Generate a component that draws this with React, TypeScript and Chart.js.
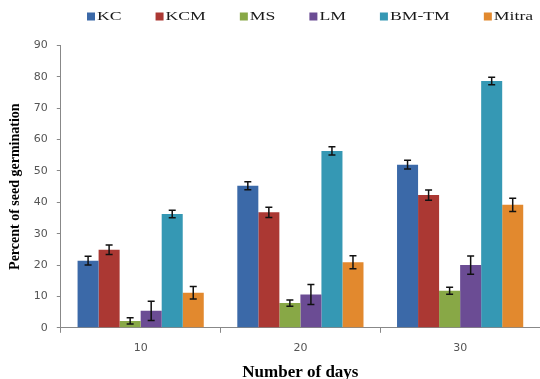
import React, { useEffect, useRef } from "react";
import { Chart, registerables } from "chart.js";

Chart.register(...registerables);

const categories = ["10", "20", "30"];
const seriesNames = ["KC", "KCM", "MS", "LM", "BM-TM", "Mitra"];
const kc = [21.4, 45.3, 52.0];
const kcm = [24.9, 36.8, 42.3];
const ms = [2.2, 7.9, 11.8];
const lm = [5.4, 10.6, 20.0];
const bmtm = [36.3, 56.4, 78.7];
const mitra = [11.2, 20.9, 39.2];
const kcErr = [1.4, 1.3, 1.4];
const kcmErr = [1.5, 1.6, 1.6];
const msErr = [1.0, 1.0, 1.1];
const lmErr = [3.1, 3.2, 2.9];
const bmtmErr = [1.2, 1.3, 1.2];
const mitraErr = [2.0, 2.1, 2.1];
const colors = ["#3B69A8", "#AB3833", "#88A846", "#6B4C94", "#3598B4", "#E2892E"];

const seriesValues = [kc, kcm, ms, lm, bmtm, mitra];
const seriesErrors = [kcErr, kcmErr, msErr, lmErr, bmtmErr, mitraErr];

const errorBarPlugin = {
  id: "errorBars",
  afterDatasetsDraw(chart: any) {
    const ctx = chart.ctx;
    const yScale = chart.scales.y;
    ctx.save();
    ctx.strokeStyle = "#111";
    ctx.lineWidth = 1.5;
    chart.data.datasets.forEach((ds: any, di: number) => {
      const meta = chart.getDatasetMeta(di);
      const errs = seriesErrors[di];
      meta.data.forEach((bar: any, i: number) => {
        const v = ds.data[i];
        const e = errs[i];
        const yT = yScale.getPixelForValue(v + e);
        const yB = yScale.getPixelForValue(v - e);
        const x = bar.x;
        const cap = 3.5;
        ctx.beginPath();
        ctx.moveTo(x, yT);
        ctx.lineTo(x, yB);
        ctx.moveTo(x - cap, yT);
        ctx.lineTo(x + cap, yT);
        ctx.moveTo(x - cap, yB);
        ctx.lineTo(x + cap, yB);
        ctx.stroke();
      });
    });
    ctx.restore();
  },
};

const legendPlugin = {
  id: "customLegend",
  afterDraw(chart: any) {
    const ctx = chart.ctx;
    ctx.save();
    ctx.font = '13px "Liberation Serif"';
    ctx.textBaseline = "middle";
    const stretch = 1.36;
    const y = 16.5;
    let x = 87;
    chart.data.datasets.forEach((ds: any) => {
      ctx.fillStyle = ds.backgroundColor;
      ctx.fillRect(x, y - 4, 8, 8);
      x += 10;
      const w = ctx.measureText(ds.label).width * stretch;
      ctx.save();
      ctx.translate(x, y);
      ctx.scale(stretch, 1);
      ctx.fillStyle = "#1a1a1a";
      ctx.fillText(ds.label, 0, 0);
      ctx.restore();
      x += w + 34;
    });
    ctx.restore();
  },
};

export default function App() {
  const ref = useRef<HTMLCanvasElement>(null);
  useEffect(() => {
    if (!ref.current) return;
    const chart = new Chart(ref.current, {
      type: "bar",
      data: {
        labels: categories,
        datasets: seriesNames.map((name, i) => ({
          label: name,
          data: seriesValues[i],
          backgroundColor: colors[i],
          borderWidth: 0,
          categoryPercentage: 0.79,
          barPercentage: 1,
        })),
      },
      options: {
        responsive: false,
        animation: false,
        layout: { padding: { top: 45.5, left: 7, right: -3, bottom: -2 } },
        plugins: {
          legend: { display: false },
          tooltip: { enabled: false },
        },
        scales: {
          x: {
            grid: { display: true, drawOnChartArea: false, tickLength: 5, color: "#888", offset: true },
            border: { display: true, color: "#888" },
            ticks: { color: "#555", font: { family: "DejaVu Sans", size: 11 }, padding: 9 },
            title: {
              display: true,
              text: "Number of days",
              color: "#000",
              font: { family: "Liberation Serif", size: 17, weight: "bold", lineHeight: 1 },
              padding: { top: 0, bottom: 0 },
            },
          },
          y: {
            min: 0,
            max: 90,
            ticks: { stepSize: 10, color: "#555", font: { family: "DejaVu Sans", size: 11 }, padding: 9 },
            grid: { display: true, drawOnChartArea: false, tickLength: 4, color: "#888" },
            border: { display: true, color: "#888" },
            title: {
              display: true,
              text: "Percent of seed germination",
              color: "#000",
              font: { family: "Liberation Serif", size: 14, weight: "bold", lineHeight: 1.2 },
              padding: { top: 0, bottom: 1 },
            },
          },
        },
      },
      plugins: [errorBarPlugin, legendPlugin],
    });
    return () => chart.destroy();
  }, []);
  return (
    <div style={{ position: "absolute", left: 0, top: 0, width: 540, height: 379, background: "#fff" }}>
      <canvas ref={ref} width={540} height={379} style={{ display: "block" }} />
    </div>
  );
}
